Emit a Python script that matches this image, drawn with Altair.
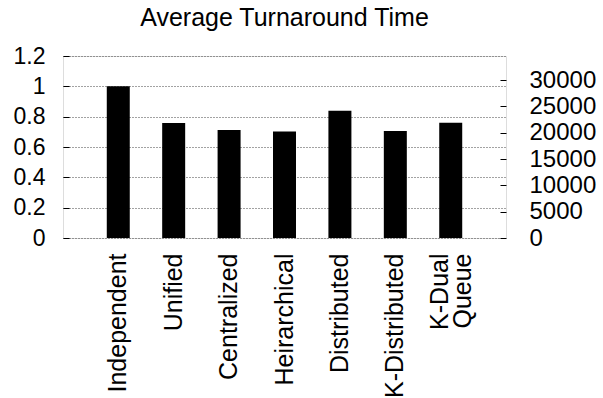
import altair as alt
import pandas as pd

categories = ["Independent", "Unified", "Centralized", "Heirarchical",
              "Distributed", "K-Distributed", "K-Dual Queue"]
normalized = [1.0, 0.758, 0.712, 0.703, 0.839, 0.705, 0.76]
left_ticks = [0, 0.2, 0.4, 0.6, 0.8, 1.0, 1.2]
right_ticks = [0, 5000, 10000, 15000, 20000, 25000, 30000]
right_max = 34560

FONT = "Liberation Sans"

df = pd.DataFrame({"cat": categories, "val": normalized})
df_r = pd.DataFrame({"t": right_ticks})

xenc = alt.X("cat:N", sort=categories, title=None,
             scale=alt.Scale(paddingInner=0.585, paddingOuter=0.79),
             axis=alt.Axis(labelAngle=-90, labelAlign="right", labelBaseline="middle",
                           labelPadding=15, ticks=False, domain=False,
                           labelFont=FONT, labelFontSize=25, labelColor="black",
                           labelLimit=0, labelLineHeight=23,
                           labelOffset={"condition": {"test": "datum.value == 'K-Dual Queue'", "value": -11},
                                        "value": 0},
                           labelExpr="datum.label == 'K-Dual Queue' ? ['K-Dual', 'Queue'] : datum.label"))

bars = alt.Chart(df).mark_bar(color="black").encode(
    x=xenc,
    y=alt.Y("val:Q", title=None,
            scale=alt.Scale(domain=[0, 1.2], nice=False),
            axis=alt.Axis(values=left_ticks, orient="left", offset=-6, tickSize=6,
                          tickColor="black", domain=False, grid=True,
                          gridColor="#444", gridDash=[1, 2], gridWidth=1,
                          labelFont=FONT, labelFontSize=23, labelColor="black",
                          labelPadding=18, labelExpr="datum.value == 0 ? '0' : format(datum.value, '.1~f')")),
)

right = alt.Chart(df_r).mark_point(opacity=0).encode(
    y=alt.Y("t:Q", title=None,
            scale=alt.Scale(domain=[0, right_max], nice=False),
            axis=alt.Axis(values=right_ticks, orient="right", offset=-6, tickSize=6,
                          tickColor="black", domain=False, grid=False, format="d",
                          labelFont=FONT, labelFontSize=24, labelColor="black",
                          labelPadding=23, labelAlign="left")),
)

chart = alt.layer(bars, right).resolve_scale(y="independent").properties(
    width=443, height=182,
    autosize="none",
    padding={"left": 63, "top": 56, "right": 97, "bottom": 160},
    title=alt.TitleParams("Average Turnaround Time", font=FONT, fontSize=25,
                          fontWeight="normal", color="black", anchor="middle",
                          frame="group", offset=14),
).configure_view(stroke="black", strokeWidth=1).configure(background="white")

chart.save("out.html", embed_options={"renderer": "svg", "actions": False})
